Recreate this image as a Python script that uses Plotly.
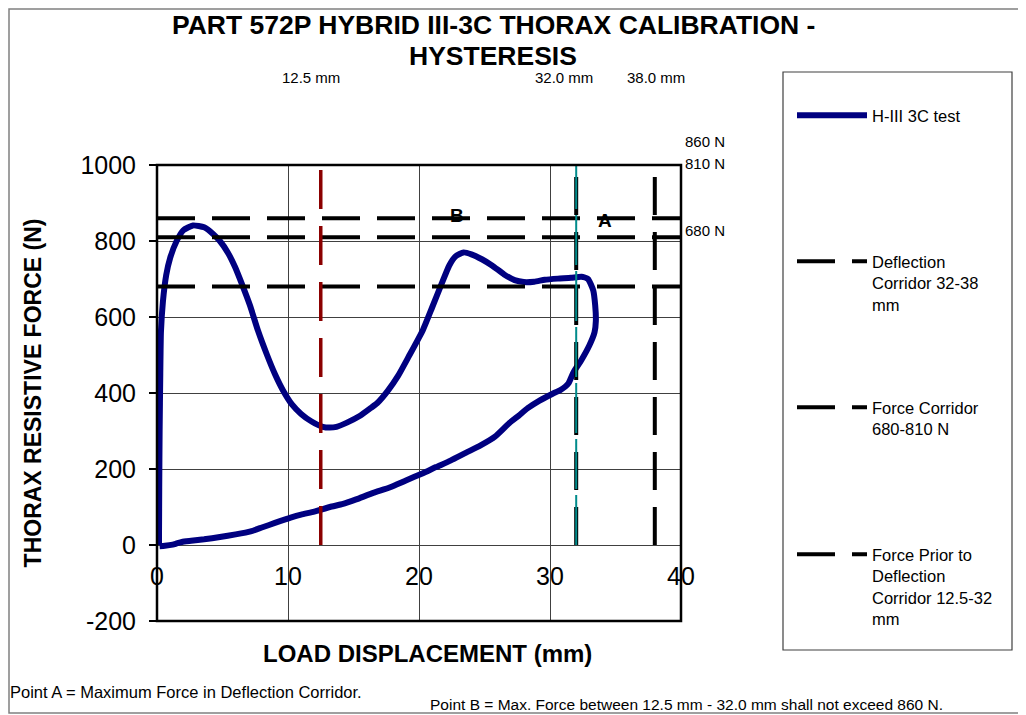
import plotly.graph_objects as go

# ---------------- data ----------------
load_x = [0.15, 0.17, 0.2, 0.25, 0.3, 0.45, 0.7, 1.0, 1.5, 2.0, 2.75, 3.6, 4.3, 4.8, 5.4, 5.95,
          6.5, 7.1, 7.7, 8.4, 9.0, 9.6, 10.3, 11.0, 11.8, 12.65, 13.2, 13.7, 14.5, 15.5, 16.3,
          16.8, 17.6, 18.4, 19.2, 20.3, 21.0, 21.7, 22.3, 22.8, 23.4, 24.0, 24.8, 25.6, 26.5,
          27.3, 28.0, 28.8, 29.6, 30.6, 31.6, 32.4]
load_y = [0, 150, 300, 450, 560, 640, 710, 755, 800, 828, 841, 836, 818, 800, 770, 732,
          685, 630, 565, 500, 450, 408, 370, 345, 325, 311, 309, 311, 322, 340, 360,
          373, 405, 445, 495, 566, 625, 685, 735, 760, 770, 765, 752, 735, 712,
          697, 692, 693, 698, 701, 703, 706]
unload_x = [32.9, 33.3, 33.45, 33.5, 33.4, 33.0, 32.4, 31.8, 31.4, 30.8, 30.2, 29.2, 28.3,
            27.6, 26.9, 25.8, 24.7, 23.6, 22.4, 21.3, 20.3, 19.0, 17.8, 16.5, 15.2, 14.2,
            13.2, 12.0, 11.0, 10.2, 9.0, 8.0, 7.15, 6.0, 4.8, 3.6, 2.6, 1.9, 1.5, 1.2, 0.6, 0.2]
unload_y = [700, 670, 630, 590, 560, 525, 487, 455, 425, 408, 398, 380, 360,
            340, 321, 285, 262, 243, 222, 205, 189, 170, 152, 137, 120, 108,
            100, 88, 80, 72, 58, 46, 36, 28, 21, 15, 11, 8, 4, 1, -2, -3]

test_x = load_x + unload_x
test_y = load_y + unload_y

x_range = [0, 40]
y_range = [-200, 1000]
x_tick_step = 10
y_ticks = [-200, 0, 200, 400, 600, 800, 1000]

deflection_corridor_mm = [32.0, 38.0]
force_corridor_n = [680, 810]
prior_limit_n = 860
prior_start_mm = 12.5
corridor_start_mm = 32.0
span_x = [0, 40]
span_y = [0, 1000]

title_lines = ["PART 572P HYBRID III-3C THORAX CALIBRATION -", "HYSTERESIS"]
top_labels = ["12.5 mm", "32.0 mm", "38.0 mm"]
side_labels = ["860 N", "810 N", "680 N"]

FONT = "Liberation Sans, Arial, sans-serif"

# page offset of the figure (browser body margin) and plot-area frame, in page pixels
OFF = 8
PL, PR, PT, PB = 157, 681, 165, 621
PAGE_W, PAGE_H = 1026, 715


def px(X):
    return (X - PL) / (PR - PL)


def py(Y):
    return (PB - Y) / (PB - PT)


def vlines(xs):
    xx, yy = [], []
    for v in xs:
        xx += [v, v, None]
        yy += [span_y[0], span_y[1], None]
    return xx[:-1], yy[:-1]


def hlines(ys):
    xx, yy = [], []
    for v in ys:
        xx += [span_x[0], span_x[1], None]
        yy += [v, v, None]
    return xx[:-1], yy[:-1]


fig = go.Figure()

fig.add_trace(go.Scatter(
    x=test_x, y=test_y, mode="lines", name="H-III 3C test",
    line=dict(color="#000080", width=6, shape="spline", smoothing=0.5),
    legend="legend", hoverinfo="skip"))

dx, dy = vlines(deflection_corridor_mm)
fig.add_trace(go.Scatter(
    x=dx, y=dy, mode="lines", name="Deflection<br>Corridor 32-38<br>mm",
    line=dict(color="black", width=4, dash="38px,17px"), legend="legend2", hoverinfo="skip"))

fx, fy = hlines(force_corridor_n)
fig.add_trace(go.Scatter(
    x=fx, y=fy, mode="lines", name="Force Corridor<br>680-810 N",
    line=dict(color="black", width=4, dash="38px,17px"), legend="legend3", hoverinfo="skip"))

ppx, ppy = hlines([prior_limit_n])
fig.add_trace(go.Scatter(
    x=ppx, y=ppy, mode="lines", name="Force Prior to<br>Deflection<br>Corridor 12.5-32<br>mm",
    line=dict(color="black", width=4, dash="38px,17px"), legend="legend4", hoverinfo="skip"))

rx, ry = vlines([prior_start_mm])
fig.add_trace(go.Scatter(
    x=rx, y=ry, mode="lines", showlegend=False,
    line=dict(color="#8B0000", width=3.5, dash="39px,17px"), hoverinfo="skip"))

tx, ty = vlines([corridor_start_mm])
fig.add_trace(go.Scatter(
    x=tx, y=ty, mode="lines", showlegend=False,
    line=dict(color="#008B8B", width=2, dash="50px,6px"), hoverinfo="skip"))

# carrier trace for the tick-label axis that crosses at y = 0
fig.add_trace(go.Scatter(
    x=x_range, y=[None, None], xaxis="x2", mode="lines", showlegend=False, hoverinfo="skip"))

grid_col = "#404040"
tick_font = dict(family=FONT, size=25, color="black")

fig.update_layout(
    width=PAGE_W - OFF, height=PAGE_H - OFF,
    margin=dict(l=PL - OFF, r=PAGE_W - PR, t=PT - OFF, b=PAGE_H - PB, pad=0),
    paper_bgcolor="white", plot_bgcolor="white",
    font=dict(family=FONT, color="black"),
    xaxis=dict(range=x_range, dtick=x_tick_step, showgrid=True, gridcolor=grid_col, gridwidth=1,
               showticklabels=False, ticks="", zeroline=False, showline=False),
    xaxis2=dict(range=x_range, dtick=x_tick_step, overlaying="x", anchor="free",
                position=(0 - y_range[0]) / (y_range[1] - y_range[0]),
                showgrid=False, zeroline=False, showline=False, ticks="",
                tickfont=tick_font, ticklabelstandoff=14),
    yaxis=dict(range=y_range, tickvals=y_ticks, ticktext=[str(v) for v in y_ticks],
               showgrid=True, gridcolor=grid_col, gridwidth=1,
               zeroline=False, showline=False, ticks="outside", ticklen=7, tickcolor="black",
               tickwidth=1.5, tickfont=tick_font, ticklabelstandoff=8,
               title=dict(text="<b>THORAX RESISTIVE FORCE (N)</b>",
                          font=dict(family=FONT, size=23, color="black"), standoff=32)),
    showlegend=True,
)

leg_common = dict(xanchor="left", yanchor="top", valign="top", bgcolor="rgba(0,0,0,0)",
                  borderwidth=0, font=dict(family=FONT, size=16.5, color="black"),
                  itemwidth=70, itemclick=False, itemdoubleclick=False)
legend_rows = [98, 244, 390, 537]
fig.update_layout(
    legend=dict(x=px(792), y=py(legend_rows[0]), **leg_common),
    legend2=dict(x=px(792), y=py(legend_rows[1]), **leg_common),
    legend3=dict(x=px(792), y=py(legend_rows[2]), **leg_common),
    legend4=dict(x=px(792), y=py(legend_rows[3]), **leg_common),
)

shapes = [
    # plot-area frame
    dict(type="rect", xref="paper", yref="paper", x0=0, x1=1, y0=0, y1=1,
         line=dict(color="black", width=2.5), layer="above"),
    # legend box
    dict(type="rect", xref="paper", yref="paper", x0=px(783), x1=px(1012), y0=py(72), y1=py(650),
         line=dict(color="#404040", width=1.2)),
    # chart-area border
    dict(type="rect", xref="paper", yref="paper", x0=px(9), x1=px(1022), y0=py(9), y1=py(713),
         line=dict(color="#808080", width=1.5)),
]
fig.update_layout(shapes=shapes)

ann = []
for txt, cy in zip(title_lines, [25, 56]):
    ann.append(dict(text="<b>%s</b>" % txt, x=px(493), y=py(cy),
                    font=dict(family=FONT, size=26.5, color="black")))
ann.append(dict(text="<b>LOAD DISPLACEMENT (mm)</b>", x=px(427), y=py(653),
                font=dict(family=FONT, size=24, color="black")))
for txt, cx in zip(top_labels, [311, 564, 656]):
    ann.append(dict(text=txt, x=px(cx), y=py(77), font=dict(family=FONT, size=15, color="black")))
for txt, cy in zip(side_labels, [142, 163, 230]):
    ann.append(dict(text=txt, x=px(683), y=py(cy), xanchor="left",
                    font=dict(family=FONT, size=15, color="black")))
ann.append(dict(text="<b>B</b>", x=px(457), y=py(216), font=dict(family=FONT, size=19, color="black")))
ann.append(dict(text="<b>A</b>", x=px(605), y=py(220), font=dict(family=FONT, size=19, color="black")))
ann.append(dict(text="Point A = Maximum Force in Deflection Corridor.", x=px(8), y=py(692),
                xanchor="left", font=dict(family=FONT, size=16.5, color="black")))
ann.append(dict(text="Point B = Max. Force between 12.5 mm - 32.0 mm shall not exceed 860 N.",
                x=px(428), y=py(704), xanchor="left",
                font=dict(family=FONT, size=15.5, color="black")))
for a in ann:
    a.setdefault("xanchor", "center")
    a.update(xref="paper", yref="paper", showarrow=False, yanchor="middle")
fig.update_layout(annotations=ann)

fig.write_html("out.html")
